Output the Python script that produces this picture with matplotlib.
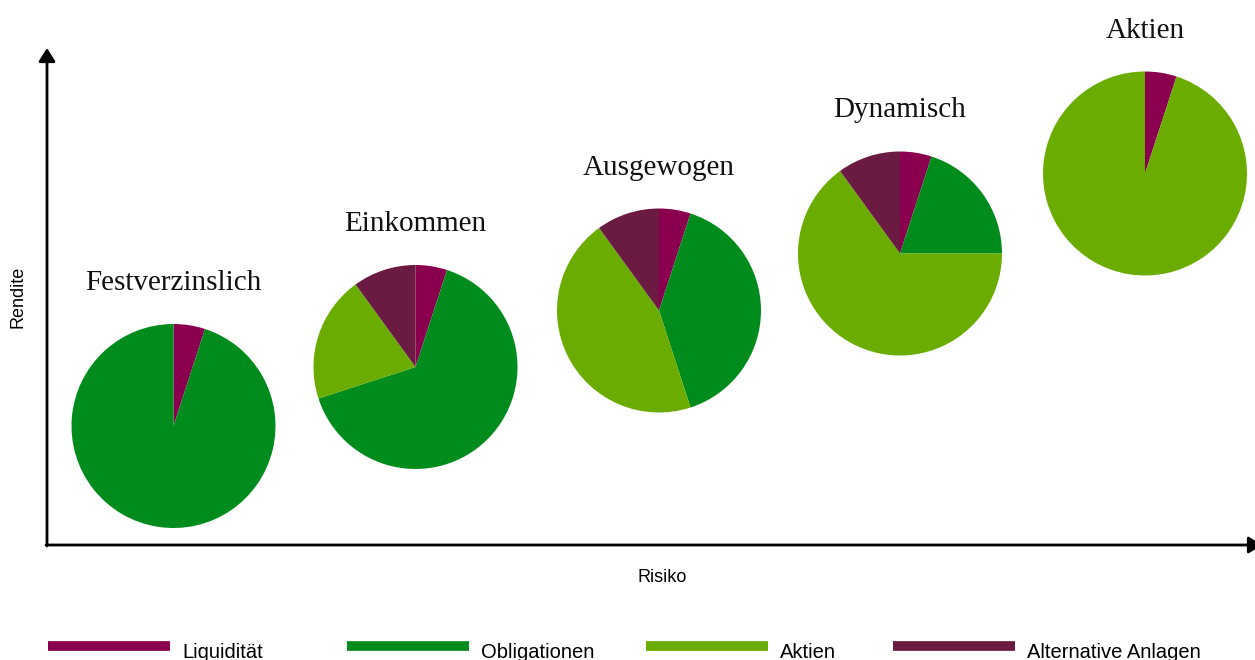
import matplotlib
matplotlib.use("Agg")
import matplotlib.pyplot as plt

# asset classes (clockwise from 12 o'clock)
classes = ["Liquidität", "Obligationen", "Aktien", "Alternative Anlagen"]
colors = ["#8A004F", "#008C1C", "#6AAD00", "#6B1A42"]

# portfolio strategies and their allocation in %
strategies = ["Festverzinslich", "Einkommen", "Ausgewogen", "Dynamisch", "Aktien"]
liquiditaet = [5, 5, 5, 5, 5]
obligationen = [95, 65, 40, 20, 0]
aktien = [0, 20, 45, 65, 95]
alternative = [0, 10, 10, 10, 0]

# layout (pixel coordinates, y measured from top)
W, H = 1255, 660
pie_x = [173.5, 415.5, 659, 900, 1145]
pie_y = [426, 367, 310.5, 253.5, 173.5]
radius = 102
title_y = [283, 224, 168, 110, 31]

fig = plt.figure(figsize=(W / 100, H / 100), dpi=100)
ax = fig.add_axes([0, 0, 1, 1])

for i, name in enumerate(strategies):
    vals = [liquiditaet[i], obligationen[i], aktien[i], alternative[i]]
    cols = [c for v, c in zip(vals, colors) if v > 0]
    vals = [v for v in vals if v > 0]
    ax.pie(vals, colors=cols, startangle=90, counterclock=False,
           center=(pie_x[i], H - pie_y[i]), radius=radius,
           wedgeprops=dict(linewidth=0))
    ax.text(pie_x[i], H - title_y[i], name, ha="center", va="center",
            fontsize=21, family="Liberation Serif", color="#111111")

ax.set_xlim(0, W)
ax.set_ylim(0, H)
ax.set_aspect("equal")
ax.axis("off")

# axes arrows
arrow = dict(arrowstyle="-|>,head_length=0.8,head_width=0.5",
             lw=2, color="black", shrinkA=0, shrinkB=0)
ax.annotate("", xy=(47, H - 48), xytext=(47, H - 546), arrowprops=arrow)
ax.annotate("", xy=(1262, H - 545), xytext=(46, H - 545),
            arrowprops=arrow, annotation_clip=False)

ax.text(18, H - 297, "Rendite", rotation=90, ha="center", va="center",
        fontsize=13, family="Liberation Sans")
ax.text(662, H - 578, "Risiko", ha="center", va="center",
        fontsize=13, family="Liberation Sans")

# legend
leg_x = [48, 347, 646, 893]
for x, lab, c in zip(leg_x, classes, colors):
    ax.plot([x, x + 122], [H - 645.5, H - 645.5], color=c, lw=7,
            solid_capstyle="butt", clip_on=False)
    ax.text(x + 134, H - 653, lab, ha="left", va="center",
            fontsize=14.5, family="Liberation Sans")

fig.savefig("out.png", dpi=100)
